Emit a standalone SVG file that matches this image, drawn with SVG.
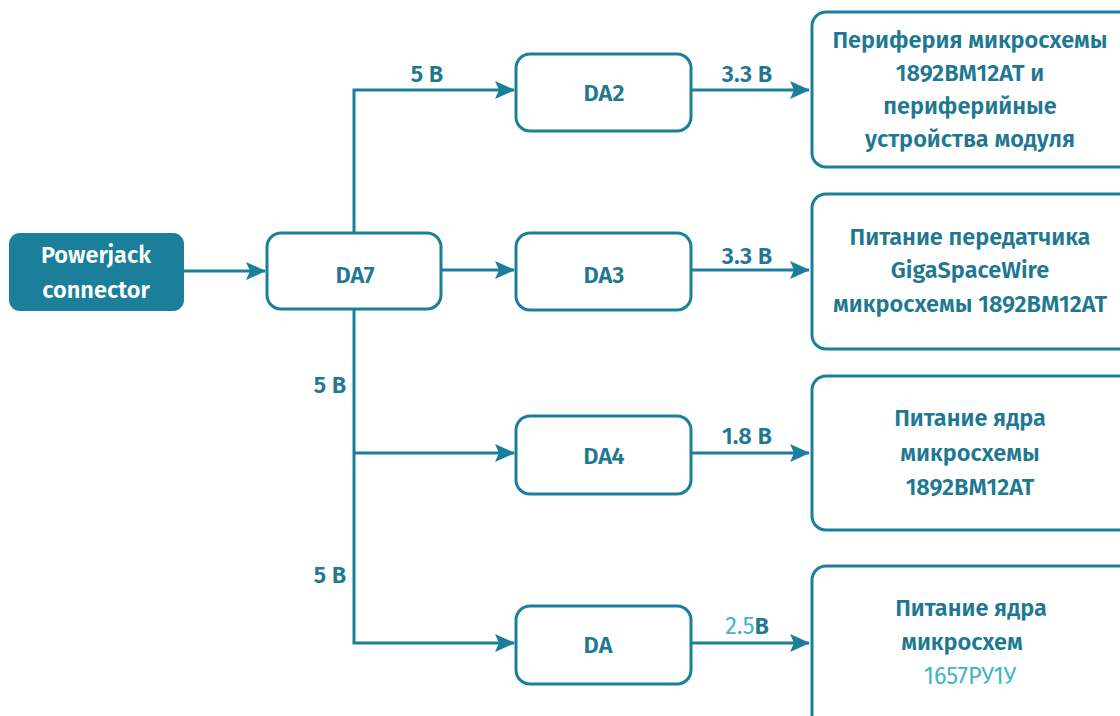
<svg xmlns="http://www.w3.org/2000/svg" width="1120" height="716" viewBox="0 0 1120 716">
<defs>
<marker id="ah" viewBox="0 0 20 18" refX="19" refY="9" markerWidth="20" markerHeight="18" markerUnits="userSpaceOnUse" orient="auto">
<path d="M0,0 L20,9 L0,18 L4,9 z" fill="#1b7f9b"/>
</marker>
<style>
.box{fill:#ffffff;stroke:#1b7f9b;stroke-width:3}
.jack{fill:#1b7f9b;stroke:#1b7f9b;stroke-width:2}
.t{font-family:"Fira Sans","Open Sans","Noto Sans",sans-serif;font-weight:600;font-size:23.5px;fill:#1f7891;text-anchor:middle}
.w{fill:#ffffff}
.lt{fill:#3fb5c8;font-weight:400}
.c{fill:none;stroke:#1b7f9b;stroke-width:3}
</style>
</defs>
<rect width="1120" height="716" fill="#ffffff"/>
<g id="connectors">
<path class="c" d="M183,271 H265" marker-end="url(#ah)"/>
<path class="c" d="M354,233 V90 H514" marker-end="url(#ah)"/>
<path class="c" d="M441,270 H514" marker-end="url(#ah)"/>
<path class="c" d="M354,309 V643 H514" marker-end="url(#ah)"/>
<path class="c" d="M354,453 H514" marker-end="url(#ah)"/>
<path class="c" d="M691,90 H809" marker-end="url(#ah)"/>
<path class="c" d="M691,270 H809" marker-end="url(#ah)"/>
<path class="c" d="M691,453 H809" marker-end="url(#ah)"/>
<path class="c" d="M691,643 H809" marker-end="url(#ah)"/>
<text class="t" x="427" y="82">5 В</text>
<text class="t" x="330" y="393">5 В</text>
<text class="t" x="330" y="583">5 В</text>
<text class="t" x="747" y="82">3.3 В</text>
<text class="t" x="747" y="264">3.3 В</text>
<text class="t" x="747" y="444">1.8 В</text>
<text class="t" x="747" y="634"><tspan class="lt">2.5</tspan>В</text>
</g>
<g id="powerjack">
<rect class="jack" x="10" y="234" width="173" height="76" rx="10"/>
<text class="t w" x="96" y="263">Powerjack</text>
<text class="t w" x="96" y="298">connector</text>
</g>
<g id="da7">
<rect class="box" x="267" y="233" width="174" height="76" rx="14"/>
<text class="t" x="355" y="283">DA7</text>
</g>
<g id="da2">
<rect class="box" x="516" y="54" width="175" height="77" rx="14"/>
<text class="t" x="604" y="101">DA2</text>
</g>
<g id="da3">
<rect class="box" x="516" y="233" width="175" height="77" rx="14"/>
<text class="t" x="604" y="283">DA3</text>
</g>
<g id="da4">
<rect class="box" x="516" y="416" width="175" height="78" rx="14"/>
<text class="t" x="604" y="464">DA4</text>
</g>
<g id="da">
<rect class="box" x="516" y="606" width="175" height="78" rx="14"/>
<text class="t" x="598" y="653">DA</text>
</g>
<g id="out1">
<rect class="box" x="812" y="12" width="330" height="155" rx="14"/>
<text class="t" x="970" y="48">Периферия микросхемы</text>
<text class="t" x="970" y="81">1892ВМ12АТ и</text>
<text class="t" x="970" y="114">периферийные</text>
<text class="t" x="970" y="147">устройства модуля</text>
</g>
<g id="out2">
<rect class="box" x="812" y="194" width="330" height="155" rx="14"/>
<text class="t" x="970" y="245">Питание передатчика</text>
<text class="t" x="970" y="278">GigaSpaceWire</text>
<text class="t" x="970" y="312">микросхемы 1892ВМ12АТ</text>
</g>
<g id="out3">
<rect class="box" x="812" y="376" width="330" height="154" rx="14"/>
<text class="t" x="970" y="426">Питание ядра</text>
<text class="t" x="970" y="461">микросхемы</text>
<text class="t" x="970" y="495">1892ВМ12АТ</text>
</g>
<g id="out4">
<rect class="box" x="812" y="566" width="330" height="170" rx="14"/>
<text class="t" x="971" y="616">Питание ядра</text>
<text class="t" x="962" y="650">микросхем</text>
<text class="t lt" x="970" y="684">1657РУ1У</text>
</g>
</svg>
